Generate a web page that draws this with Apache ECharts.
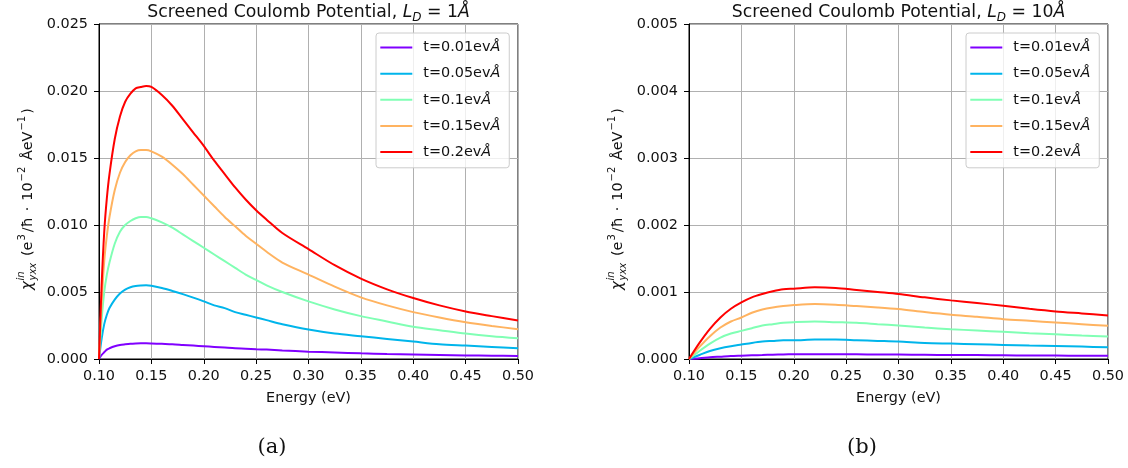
<!DOCTYPE html>
<html>
<head>
<meta charset="utf-8">
<script src="https://cdn.jsdelivr.net/npm/echarts@6/dist/echarts.min.js"></script>
<style>
  html, body { margin: 0; padding: 0; background: #fff; }
  #chart { width: 1128px; height: 468px; }
</style>
</head>
<body>
<div id="chart"></div>
<script>
// ---- data -------------------------------------------------------------
const seriesNames = ['t=0.01evÅ', 't=0.05evÅ', 't=0.1evÅ', 't=0.15evÅ', 't=0.2evÅ'];
const seriesColors = ['#8000ff', '#00b5eb', '#80ffb4', '#ffb360', '#ff0000'];

// Panel (a): L_D = 1 Å
const energyA = [0.1, 0.1025, 0.105, 0.1075, 0.11, 0.115, 0.12, 0.125, 0.13, 0.135, 0.14, 0.145, 0.15,
  0.16, 0.17, 0.18, 0.19, 0.2, 0.21, 0.22, 0.23, 0.24, 0.25, 0.26, 0.275, 0.3, 0.325, 0.35, 0.375,
  0.4, 0.425, 0.45, 0.475, 0.5];
const chiA_t001 = [0, 0.0003, 0.0005, 0.0007, 0.0008, 0.00095, 0.00105, 0.0011, 0.00114, 0.00116, 0.00117,
  0.00117, 0.00116, 0.00113, 0.0011, 0.00105, 0.001, 0.00095, 0.0009, 0.00085, 0.0008, 0.00077, 0.00073,
  0.0007, 0.00064, 0.00055, 0.00048, 0.00042, 0.00037, 0.00033, 0.0003, 0.00027, 0.00025, 0.00023];
const chiA_t005 = [0, 0.0015, 0.0026, 0.0033, 0.0038, 0.00443, 0.00489, 0.00518, 0.00535, 0.00544, 0.00548,
  0.0055, 0.00547, 0.0053, 0.00508, 0.00484, 0.00458, 0.0043, 0.0040, 0.0038, 0.0035, 0.0033, 0.0031,
  0.0029, 0.0026, 0.0022, 0.0019, 0.0017, 0.0015, 0.0013, 0.0011, 0.0010, 0.0009, 0.0008];
const chiA_t010 = [0, 0.0029, 0.0050, 0.0063, 0.0072, 0.0086, 0.0095, 0.0100, 0.0103, 0.0105, 0.0106,
  0.0106, 0.0105, 0.0102, 0.0098, 0.0093, 0.0088, 0.0083, 0.0078, 0.0073, 0.0068, 0.0063, 0.0059,
  0.0055, 0.0050, 0.0043, 0.0037, 0.0032, 0.0028, 0.0024, 0.00215, 0.0019, 0.0017, 0.00155];
const chiA_t015 = [0, 0.0042, 0.0073, 0.0092, 0.0106, 0.0126, 0.0139, 0.0147, 0.0152, 0.0155, 0.0156,
  0.0156, 0.0155, 0.0151, 0.0145, 0.0138, 0.0130, 0.0122, 0.0114, 0.0106, 0.0099, 0.0092, 0.0086,
  0.0080, 0.0072, 0.0063, 0.0054, 0.0046, 0.0040, 0.0035, 0.0031, 0.00275, 0.00247, 0.00222];
const chiA_t020 = [0, 0.0055, 0.0095, 0.0120, 0.0138, 0.0164, 0.0181, 0.0192, 0.0198, 0.0202, 0.0203,
  0.02037, 0.0203, 0.0197, 0.0189, 0.0179, 0.0169, 0.0159, 0.0148, 0.0138, 0.0128, 0.0119, 0.0111,
  0.0104, 0.0094, 0.0082, 0.0070, 0.0060, 0.0052, 0.00455, 0.0040, 0.00355, 0.0032, 0.00287];

// Panel (b): L_D = 10 Å
const energyB = [0.1, 0.11, 0.12, 0.13, 0.14, 0.15, 0.16, 0.17, 0.18, 0.19, 0.2, 0.22, 0.24, 0.26, 0.28,
  0.3, 0.325, 0.35, 0.375, 0.4, 0.425, 0.45, 0.475, 0.5];
const chiB_t001 = [0, 0.00001, 0.000025, 0.000035, 0.000045, 0.00005, 0.000055, 0.00006, 0.000065, 0.000068,
  0.00007, 0.000072, 0.000072, 0.00007, 0.000068, 0.000066, 0.000063, 0.00006, 0.000058, 0.000055,
  0.000053, 0.000051, 0.000049, 0.000047];
const chiB_t005 = [0, 0.00006, 0.00012, 0.00016, 0.00019, 0.000215, 0.00024, 0.00026, 0.00027, 0.00028,
  0.00028, 0.00029, 0.00029, 0.00028, 0.00027, 0.00026, 0.00024, 0.00023, 0.00022, 0.00021, 0.0002,
  0.000195, 0.000185, 0.000175];
const chiB_t010 = [0, 0.00012, 0.00023, 0.00032, 0.00038, 0.00042, 0.00046, 0.0005, 0.00052, 0.00054,
  0.00055, 0.00056, 0.00055, 0.00054, 0.00052, 0.0005, 0.00047, 0.000445, 0.000425, 0.000405, 0.000385,
  0.00037, 0.00035, 0.000335];
const chiB_t015 = [0, 0.00018, 0.00034, 0.00047, 0.00056, 0.00062, 0.00069, 0.00074, 0.00077, 0.00079,
  0.000805, 0.00082, 0.00081, 0.00079, 0.00077, 0.000745, 0.0007, 0.00066, 0.00063, 0.000595, 0.00057,
  0.000545, 0.00052, 0.000495];
const chiB_t020 = [0, 0.00024, 0.00045, 0.00062, 0.00075, 0.000845, 0.00092, 0.00097, 0.00101, 0.00104,
  0.00105, 0.00107, 0.00106, 0.00103, 0.001, 0.00097, 0.00092, 0.000875, 0.000835, 0.000795, 0.00075,
  0.00071, 0.00068, 0.00065];

const panelA = [chiA_t001, chiA_t005, chiA_t010, chiA_t015, chiA_t020];
const panelB = [chiB_t001, chiB_t005, chiB_t010, chiB_t015, chiB_t020];

// ---- styling helpers --------------------------------------------------
const FONT = 'DejaVu Sans';
const TICK = 14.4;

function xAxisFor(gridIndex) {
  return {
    type: 'value', gridIndex, min: 0.1, max: 0.5, interval: 0.05,
    name: 'Energy (eV)', nameLocation: 'middle', nameGap: 32,
    nameTextStyle: { fontFamily: FONT, fontSize: TICK, color: '#111' },
    axisLine: { show: true, onZero: false, lineStyle: { color: '#000', width: 1 } },
    axisTick: { show: true, inside: false, length: 5, lineStyle: { color: '#000' } },
    axisLabel: { margin: 10, fontFamily: FONT, fontSize: TICK, color: '#111',
      formatter: v => v.toFixed(2) },
    splitLine: { show: true, lineStyle: { color: '#b0b0b0', width: 1 } }
  };
}
function yAxisFor(gridIndex, max, interval) {
  return {
    type: 'value', gridIndex, min: 0, max, interval,
    axisLine: { show: true, lineStyle: { color: '#000', width: 1 } },
    axisTick: { show: true, inside: false, length: 5, lineStyle: { color: '#000' } },
    axisLabel: { margin: 11, fontFamily: FONT, fontSize: TICK, color: '#111',
      formatter: v => v.toFixed(3) },
    splitLine: { show: true, lineStyle: { color: '#b0b0b0', width: 1 } }
  };
}
function legendFor(left) {
  return {
    orient: 'vertical', left, top: 33,
    data: seriesNames,
    icon: 'rect', itemWidth: 32, itemHeight: 2, itemGap: 10.1,
    padding: [6.6, 9, 7.8, 4.3],
    backgroundColor: 'rgba(255,255,255,0.8)',
    borderColor: '#cccccc', borderWidth: 1, borderRadius: 3,
    textStyle: {
      fontFamily: FONT, fontSize: TICK, color: '#111', lineHeight: 16, padding: [0, 0, 0, 6],
      rich: {
        n: { fontFamily: FONT, fontSize: TICK, color: '#111', lineHeight: 16 },
        i: { fontFamily: FONT, fontSize: TICK, fontStyle: 'italic', color: '#111', lineHeight: 16 }
      }
    },
    formatter: name => '{n|' + name.slice(0, -1) + '}{i|' + name.slice(-1) + '}',
    selectedMode: false
  };
}
function panelSeries(xs, values, axisIndex) {
  return values.map((ys, k) => ({
    name: seriesNames[k], type: 'line', xAxisIndex: axisIndex, yAxisIndex: axisIndex,
    data: xs.map((x, i) => [x, ys[i]]),
    showSymbol: false, symbol: 'none', smooth: 0.3,
    lineStyle: { color: seriesColors[k], width: 2 }, itemStyle: { color: seriesColors[k] },
    clip: true, z: 3
  }));
}

// Title: "Screened Coulomb Potential, L_D = <value>Å"
function titleText(cx, value) {
  return {
    type: 'text', x: cx, y: 13,
    style: {
      text: '{n|Screened Coulomb Potential, }{i|L}{s|D}{n| = ' + value + '}{i|Å}',
      align: 'center', verticalAlign: 'middle',
      rich: {
        n: { fontFamily: FONT, fontSize: 17.3, fill: '#111', lineHeight: 22 },
        i: { fontFamily: FONT, fontSize: 17.3, fontStyle: 'italic', fill: '#111', lineHeight: 22 },
        s: { fontFamily: FONT, fontSize: 12, fontStyle: 'italic', fill: '#111', lineHeight: 12,
             verticalAlign: 'bottom' }
      }
    }
  };
}

// Rotated y-axis label: chi^{in}_{yxx} (e^3/hbar . 10^{-2} AeV^{-1})
function yLabel(x, y) {
  const base = { fontFamily: FONT, fill: '#111' };
  const n = { fontFamily: FONT, fontSize: TICK, fill: '#111', lineHeight: 22 };
  return {
    type: 'group', x, y, rotation: Math.PI / 2,
    children: [
      { type: 'text', x: 0, y: 0,
        style: Object.assign({ text: 'χ', fontSize: 15, fontStyle: 'italic',
          align: 'left', verticalAlign: 'middle' }, base) },
      { type: 'text', x: 9.5, y: -6.5,
        style: Object.assign({ text: 'in', fontSize: 10, fontStyle: 'italic',
          align: 'left', verticalAlign: 'middle' }, base) },
      { type: 'text', x: 9.5, y: 5,
        style: Object.assign({ text: 'yxx', fontSize: 10, fontStyle: 'italic',
          align: 'left', verticalAlign: 'middle' }, base) },
      { type: 'text', x: 34, y: 0,
        style: {
          text: '{n|(e}{p|3}{n|/ħ}{o|·}{n|10}{p|−2}{n| ÅeV}{p|−1}{n|)}',
          align: 'left', verticalAlign: 'middle',
          rich: {
            n: n,
            o: Object.assign({}, n, { padding: [0, 6, 0, 6] }),
            p: { fontFamily: FONT, fontSize: 10, fill: '#111', lineHeight: 10, verticalAlign: 'top',
                 padding: [0, 2, 0, 1] }
          }
        } }
    ]
  };
}
function caption(cx, label) {
  return {
    type: 'text', x: cx, y: 448,
    style: { text: label, fontFamily: 'DejaVu Serif', fontSize: 21, fill: '#111',
      align: 'center', verticalAlign: 'middle' }
  };
}

// ---- chart ------------------------------------------------------------
const chart = echarts.init(document.getElementById('chart'), null, { renderer: 'canvas' });
chart.setOption({
  animation: false,
  backgroundColor: '#fff',
  color: seriesColors,
  grid: [
    { left: 99, top: 24, width: 419, height: 335, show: true, borderColor: '#000', borderWidth: 1,
      backgroundColor: 'transparent' },
    { left: 689, top: 24, width: 419, height: 335, show: true, borderColor: '#000', borderWidth: 1,
      backgroundColor: 'transparent' }
  ],
  xAxis: [xAxisFor(0), xAxisFor(1)],
  yAxis: [yAxisFor(0, 0.025, 0.005), yAxisFor(1, 0.005, 0.001)],
  legend: [legendFor(376), legendFor(966)],
  series: panelSeries(energyA, panelA, 0).concat(panelSeries(energyB, panelB, 1)),
  graphic: [
    titleText(308.5, '1'),
    titleText(898.5, '10'),
    yLabel(28, 290),
    yLabel(618, 290),
    caption(272, '(a)'),
    caption(862, '(b)')
  ]
});
</script>
</body>
</html>
